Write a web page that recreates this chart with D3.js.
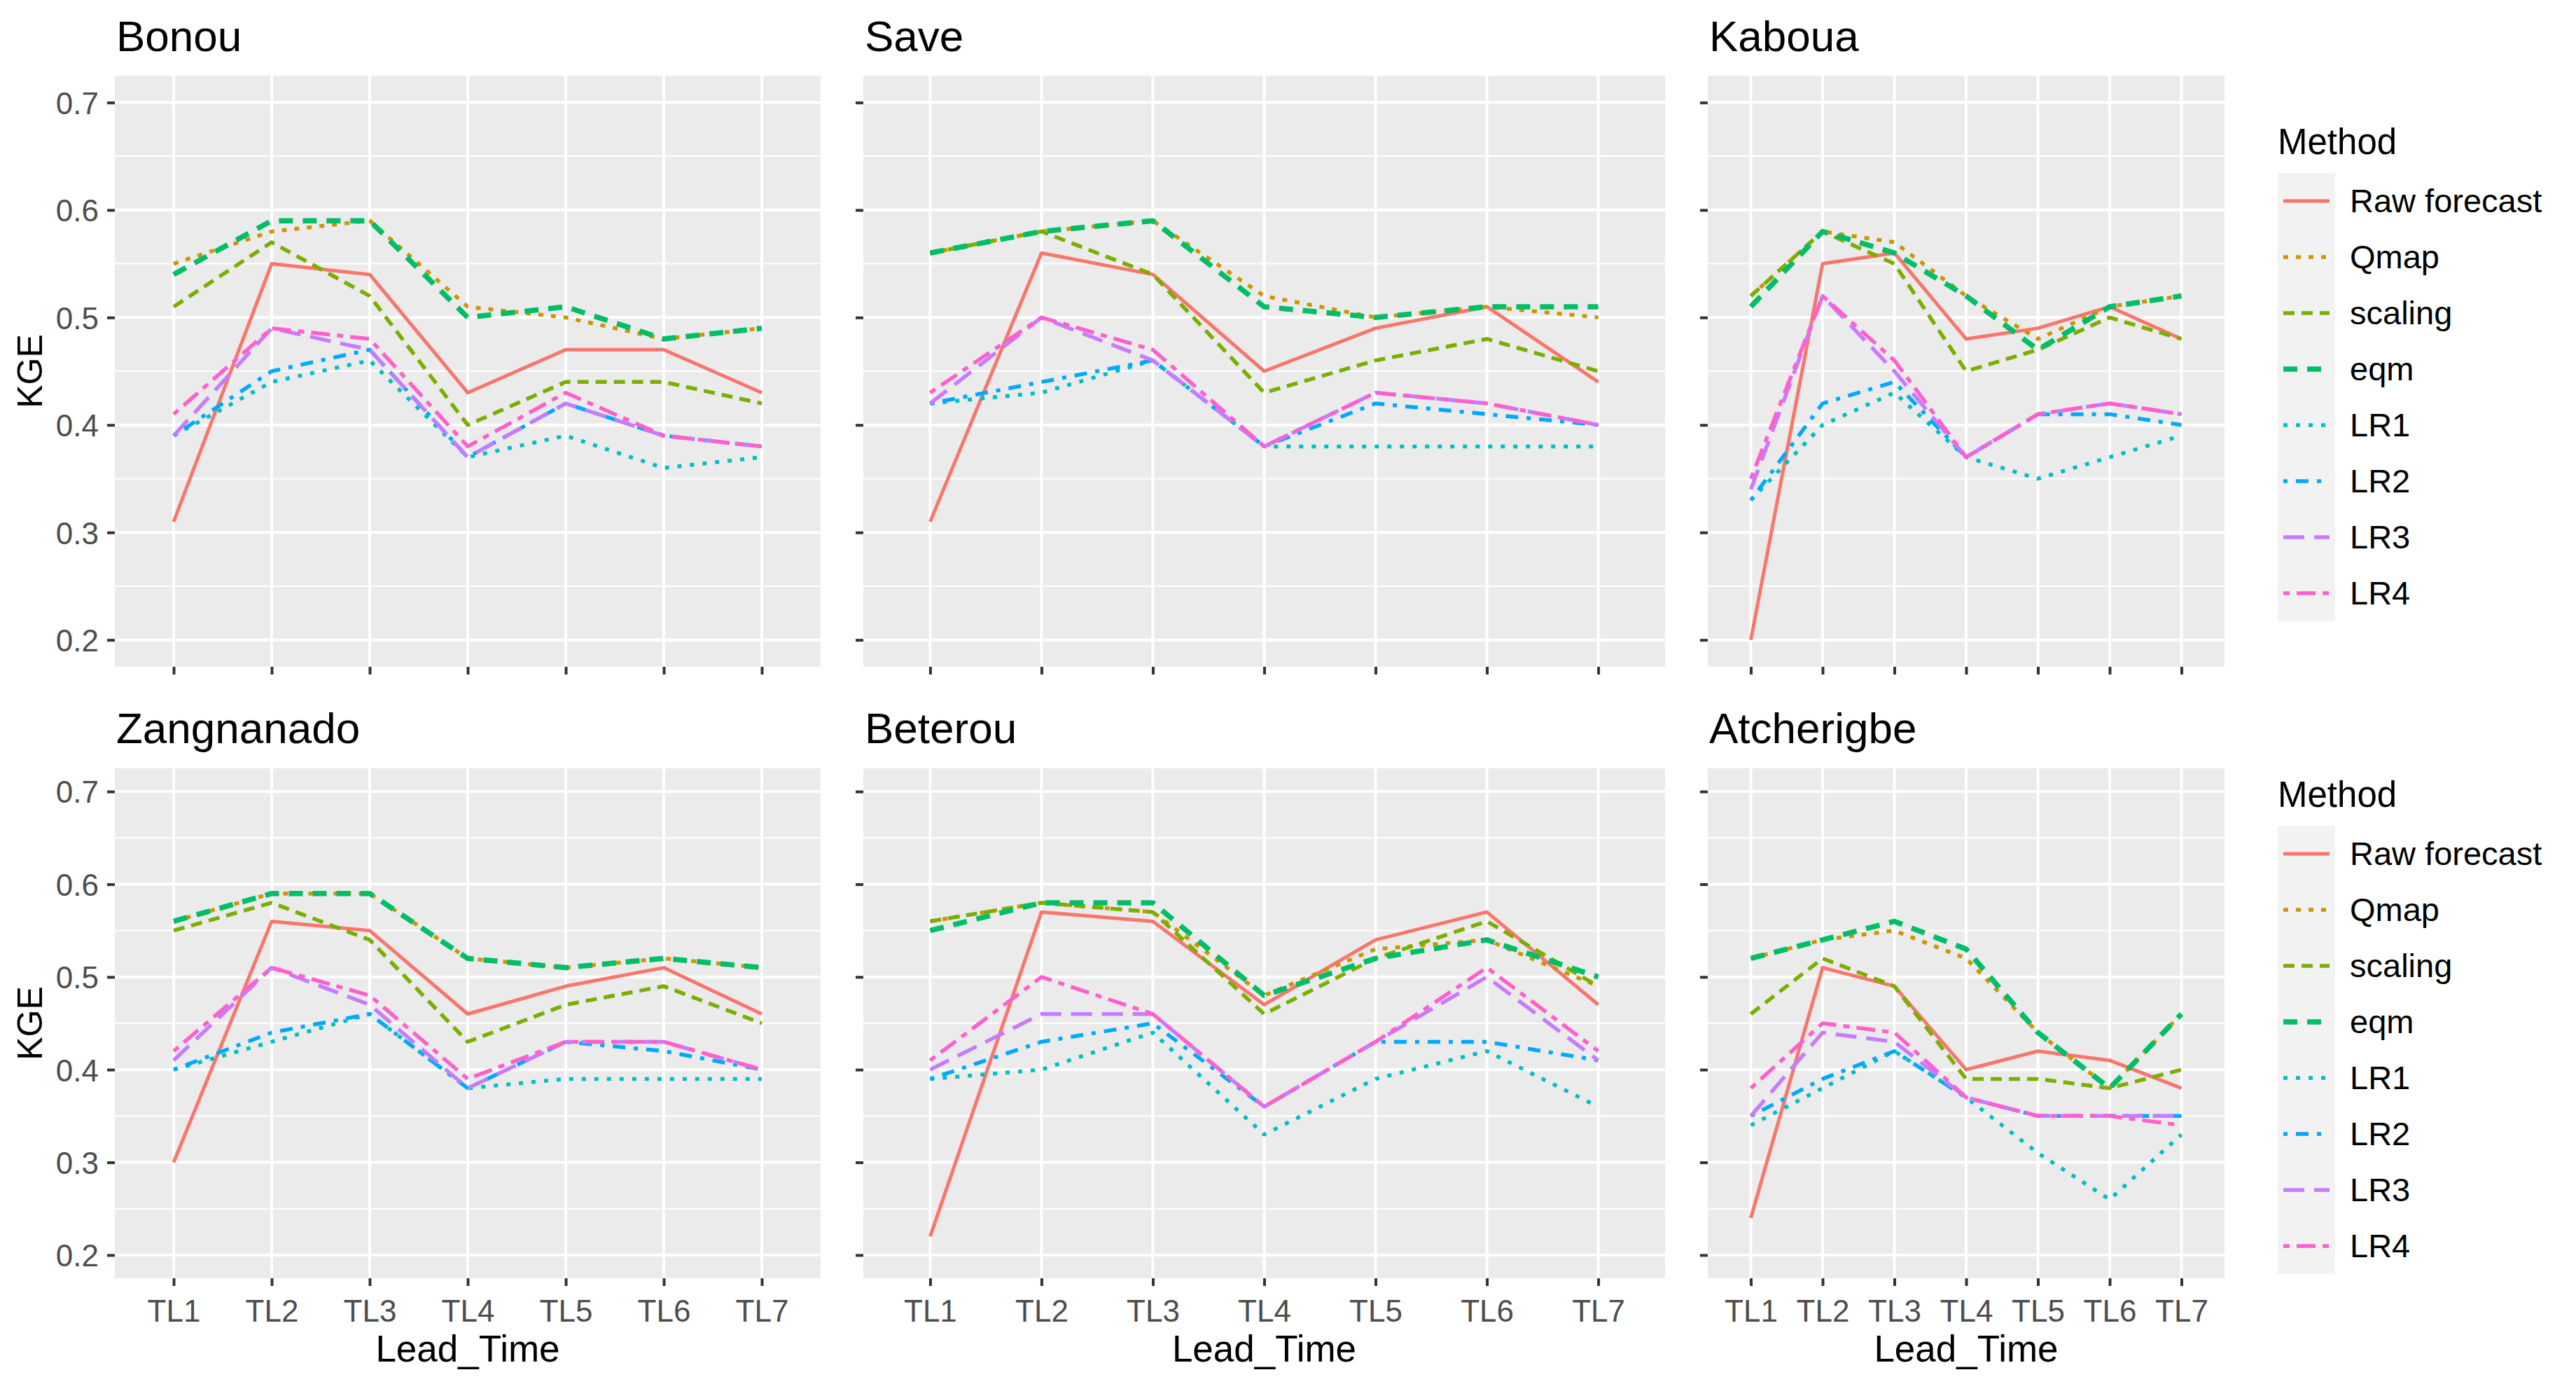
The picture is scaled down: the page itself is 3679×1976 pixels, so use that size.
<!DOCTYPE html>
<html>
<head>
<meta charset="utf-8">
<script src="https://cdn.jsdelivr.net/npm/d3@7"></script>
<style>
  body { margin: 0; background: #fff; }
  svg { display: block; font-family: "Liberation Sans", Arial, sans-serif; }
</style>
</head>
<body>
<div id="chart"></div>
<script>
// data
var leadTimes = ["TL1", "TL2", "TL3", "TL4", "TL5", "TL6", "TL7"];
var methods = ["Raw forecast", "Qmap", "scaling", "eqm", "LR1", "LR2", "LR3", "LR4"];
var stations = ["Bonou", "Save", "Kaboua", "Zangnanado", "Beterou", "Atcherigbe"];
var yTicks = [0.2, 0.3, 0.4, 0.5, 0.6, 0.7];
var yMinor = [0.25, 0.35, 0.45, 0.55, 0.65];

// one row per method (same order as methods), one value per lead time
var bonouKGE = [
    [0.31, 0.55, 0.54, 0.43, 0.47, 0.47, 0.43],
    [0.55, 0.58, 0.59, 0.51, 0.50, 0.48, 0.49],
    [0.51, 0.57, 0.52, 0.40, 0.44, 0.44, 0.42],
    [0.54, 0.59, 0.59, 0.50, 0.51, 0.48, 0.49],
    [0.39, 0.44, 0.46, 0.37, 0.39, 0.36, 0.37],
    [0.39, 0.45, 0.47, 0.37, 0.42, 0.39, 0.38],
    [0.39, 0.49, 0.47, 0.37, 0.42, 0.39, 0.38],
    [0.41, 0.49, 0.48, 0.38, 0.43, 0.39, 0.38]
];
var saveKGE = [
    [0.31, 0.56, 0.54, 0.45, 0.49, 0.51, 0.44],
    [0.56, 0.58, 0.59, 0.52, 0.50, 0.51, 0.50],
    [0.56, 0.58, 0.54, 0.43, 0.46, 0.48, 0.45],
    [0.56, 0.58, 0.59, 0.51, 0.50, 0.51, 0.51],
    [0.42, 0.43, 0.46, 0.38, 0.38, 0.38, 0.38],
    [0.42, 0.44, 0.46, 0.38, 0.42, 0.41, 0.40],
    [0.42, 0.50, 0.46, 0.38, 0.43, 0.42, 0.40],
    [0.43, 0.50, 0.47, 0.38, 0.43, 0.42, 0.40]
];
var kabouaKGE = [
    [0.20, 0.55, 0.56, 0.48, 0.49, 0.51, 0.48],
    [0.52, 0.58, 0.57, 0.52, 0.48, 0.51, 0.52],
    [0.52, 0.58, 0.55, 0.45, 0.47, 0.50, 0.48],
    [0.51, 0.58, 0.56, 0.52, 0.47, 0.51, 0.52],
    [0.33, 0.40, 0.43, 0.37, 0.35, 0.37, 0.39],
    [0.33, 0.42, 0.44, 0.37, 0.41, 0.41, 0.40],
    [0.34, 0.52, 0.45, 0.37, 0.41, 0.42, 0.41],
    [0.35, 0.52, 0.46, 0.37, 0.41, 0.42, 0.41]
];
var zangnanadoKGE = [
    [0.30, 0.56, 0.55, 0.46, 0.49, 0.51, 0.46],
    [0.56, 0.59, 0.59, 0.52, 0.51, 0.52, 0.51],
    [0.55, 0.58, 0.54, 0.43, 0.47, 0.49, 0.45],
    [0.56, 0.59, 0.59, 0.52, 0.51, 0.52, 0.51],
    [0.40, 0.43, 0.46, 0.38, 0.39, 0.39, 0.39],
    [0.40, 0.44, 0.46, 0.38, 0.43, 0.42, 0.40],
    [0.41, 0.51, 0.47, 0.38, 0.43, 0.43, 0.40],
    [0.42, 0.51, 0.48, 0.39, 0.43, 0.43, 0.40]
];
var beterouKGE = [
    [0.22, 0.57, 0.56, 0.47, 0.54, 0.57, 0.47],
    [0.56, 0.58, 0.57, 0.48, 0.53, 0.54, 0.49],
    [0.56, 0.58, 0.57, 0.46, 0.52, 0.56, 0.49],
    [0.55, 0.58, 0.58, 0.48, 0.52, 0.54, 0.50],
    [0.39, 0.40, 0.44, 0.33, 0.39, 0.42, 0.36],
    [0.39, 0.43, 0.45, 0.36, 0.43, 0.43, 0.41],
    [0.40, 0.46, 0.46, 0.36, 0.43, 0.50, 0.41],
    [0.41, 0.50, 0.46, 0.36, 0.43, 0.51, 0.42]
];
var atcherigbeKGE = [
    [0.24, 0.51, 0.49, 0.40, 0.42, 0.41, 0.38],
    [0.52, 0.54, 0.55, 0.52, 0.44, 0.38, 0.46],
    [0.46, 0.52, 0.49, 0.39, 0.39, 0.38, 0.40],
    [0.52, 0.54, 0.56, 0.53, 0.44, 0.38, 0.46],
    [0.34, 0.38, 0.42, 0.37, 0.31, 0.26, 0.33],
    [0.35, 0.39, 0.42, 0.37, 0.35, 0.35, 0.35],
    [0.35, 0.44, 0.43, 0.37, 0.35, 0.35, 0.35],
    [0.38, 0.45, 0.44, 0.37, 0.35, 0.35, 0.34]
];
var stationValues = [bonouKGE, saveKGE, kabouaKGE, zangnanadoKGE, beterouKGE, atcherigbeKGE];

// styles per method
var colors = ["#F8766D", "#CD9600", "#7CAE00", "#00BE67", "#00BFC4", "#00A9FF", "#C77CFF", "#FF61CC"];
var dashes = ["none", "7,11", "16,10", "20,14", "6,12", "6,12,18,12", "30,14", "9,10,27,10"];
var widths = [5, 5.5, 5.5, 7.5, 5.5, 5.5, 5.5, 5.5];

function init() {
    var W = 3679, H = 1976;

    // panel layout (columns share x, rows share y)
    var cols = [{ l: 164, r: 1172 }, { l: 1233, r: 2378 }, { l: 2439, r: 3177 }];
    var rows = [{ t: 108, b: 952, title: 73, legend: 220 }, { t: 1097, b: 1825, title: 1061, legend: 1152 }];

    var svg = d3.select("#chart")
        .append("svg")
        .attr("width", W)
        .attr("height", H);

    svg.append("rect").attr("width", W).attr("height", H).attr("fill", "#fff");

    stations.forEach(function (name, s) {
        var col = cols[s % 3], row = rows[Math.floor(s / 3)];
        var data = stationValues[s];

        var xScale = d3.scalePoint()
            .domain(leadTimes)
            .range([col.l, col.r])
            .padding(0.6);

        var yScale = d3.scaleLinear()
            .domain([0.175, 0.725])
            .range([row.b, row.t]);

        var g = svg.append("g");

        // panel background
        g.append("rect")
            .attr("x", col.l).attr("y", row.t)
            .attr("width", col.r - col.l).attr("height", row.b - row.t)
            .attr("fill", "#EBEBEB");

        // grid
        g.selectAll(".minor")
            .data(yMinor)
            .enter()
            .append("line")
            .attr("x1", col.l).attr("x2", col.r)
            .attr("y1", function (d) { return yScale(d); })
            .attr("y2", function (d) { return yScale(d); })
            .attr("stroke", "#fff").attr("stroke-width", 2);

        g.selectAll(".major")
            .data(yTicks)
            .enter()
            .append("line")
            .attr("x1", col.l).attr("x2", col.r)
            .attr("y1", function (d) { return yScale(d); })
            .attr("y2", function (d) { return yScale(d); })
            .attr("stroke", "#fff").attr("stroke-width", 4);

        g.selectAll(".vmajor")
            .data(leadTimes)
            .enter()
            .append("line")
            .attr("y1", row.t).attr("y2", row.b)
            .attr("x1", function (d) { return xScale(d); })
            .attr("x2", function (d) { return xScale(d); })
            .attr("stroke", "#fff").attr("stroke-width", 4);

        // lines
        var line = d3.line()
            .x(function (d, i) { return xScale(leadTimes[i]); })
            .y(function (d) { return yScale(d); });

        g.selectAll(".series")
            .data(data)
            .enter()
            .append("path")
            .attr("d", line)
            .attr("fill", "none")
            .attr("stroke", function (d, i) { return colors[i]; })
            .attr("stroke-width", function (d, i) { return widths[i]; })
            .attr("stroke-dasharray", function (d, i) { return dashes[i]; })
            .attr("stroke-linejoin", "round");

        // axes
        var yAxis = d3.axisLeft(yScale)
            .tickValues(yTicks)
            .tickSize(11)
            .tickPadding(12)
            .tickFormat(s % 3 === 0 ? d3.format(".1f") : function () { return ""; });

        var ya = svg.append("g")
            .attr("transform", "translate(" + col.l + ",0)")
            .call(yAxis);

        var xAxis = d3.axisBottom(xScale)
            .tickSize(11)
            .tickPadding(20)
            .tickFormat(s >= 3 ? null : function () { return ""; });

        var xa = svg.append("g")
            .attr("transform", "translate(0," + row.b + ")")
            .call(xAxis);

        [ya, xa].forEach(function (a) {
            a.select(".domain").remove();
            a.selectAll(".tick line").attr("stroke", "#333333").attr("stroke-width", 4);
            a.selectAll(".tick text")
                .attr("fill", "#4D4D4D")
                .style("font-size", "44px")
                .style("font-family", "'Liberation Sans', Arial, sans-serif");
        });
        ya.selectAll(".tick text").attr("dy", "0.36em");

        // title
        svg.append("text")
            .attr("x", col.l + 2)
            .attr("y", row.title)
            .attr("fill", "#000")
            .style("font-size", "62px")
            .text(name);

        if (s % 3 === 0) {
            svg.append("text")
                .attr("transform", "translate(60," + ((row.t + row.b) / 2) + ") rotate(-90)")
                .attr("text-anchor", "middle")
                .attr("fill", "#000")
                .style("font-size", "50px")
                .text("KGE");
        }

        if (s >= 3) {
            svg.append("text")
                .attr("x", (col.l + col.r) / 2)
                .attr("y", 1944)
                .attr("text-anchor", "middle")
                .attr("fill", "#000")
                .style("font-size", "53px")
                .text("Lead_Time");
        }

        // legend beside the third column
        if (s % 3 === 2) {
            var lx = 3253, ly = row.legend;
            var lg = svg.append("g");
            lg.append("text")
                .attr("x", lx)
                .attr("y", ly)
                .attr("fill", "#000")
                .style("font-size", "51px")
                .text("Method");

            var keyTop = ly + 27, keyH = 80;
            lg.append("rect")
                .attr("x", lx).attr("y", keyTop)
                .attr("width", 82).attr("height", keyH * methods.length)
                .attr("fill", "#F2F2F2");

            var item = lg.selectAll(".item")
                .data(methods)
                .enter()
                .append("g")
                .attr("transform", function (d, i) { return "translate(0," + (keyTop + keyH * i + keyH / 2) + ")"; });

            item.append("line")
                .attr("x1", lx + 8).attr("x2", lx + 74)
                .attr("stroke", function (d, i) { return colors[i]; })
                .attr("stroke-width", function (d, i) { return widths[i]; })
                .attr("stroke-dasharray", function (d, i) { return dashes[i]; });

            item.append("text")
                .attr("x", lx + 103)
                .attr("y", 16)
                .attr("fill", "#000")
                .style("font-size", "47px")
                .text(function (d) { return d; });
        }
    });
}

window.onload = init;
</script>
</body>
</html>
